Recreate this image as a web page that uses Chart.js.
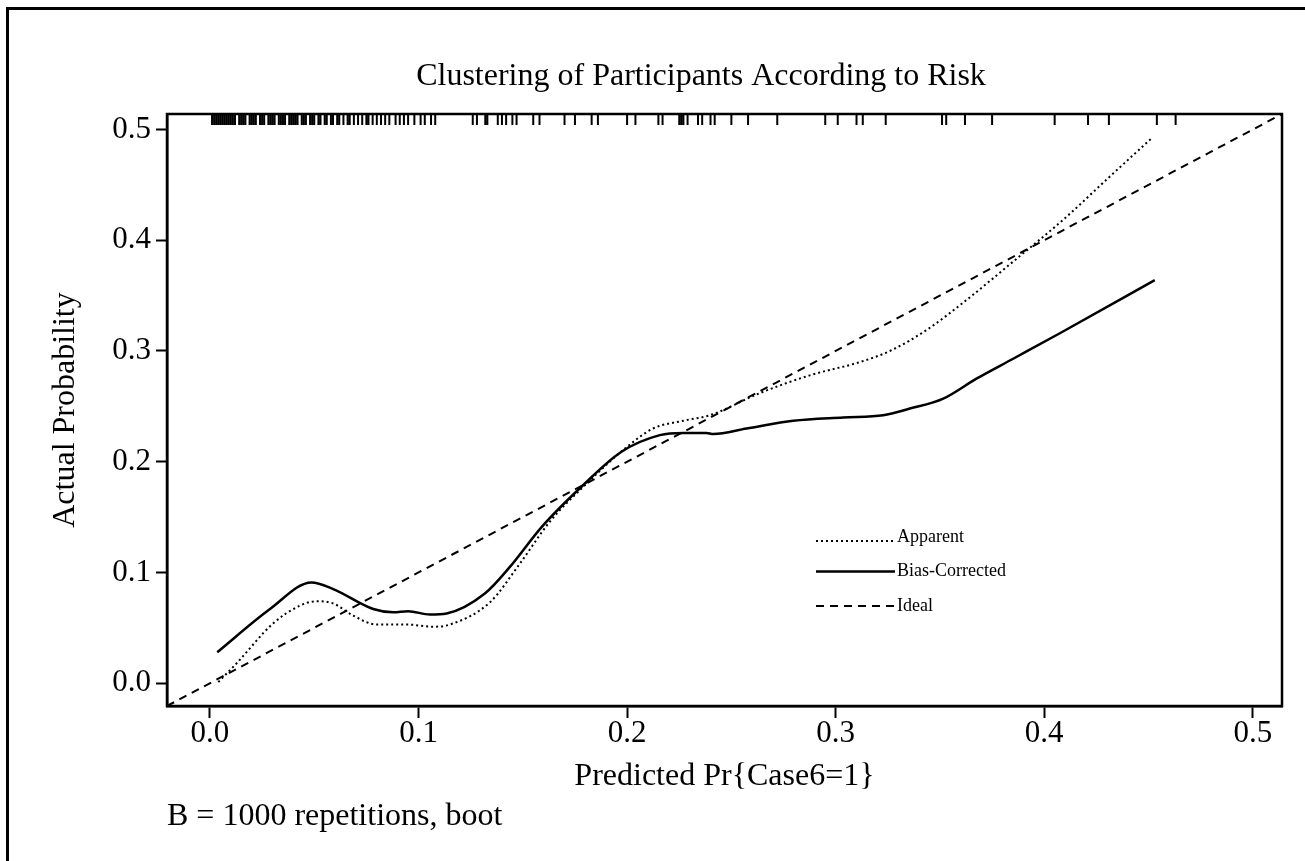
<!DOCTYPE html>
<html>
<head>
<meta charset="utf-8">
<script src="https://cdn.jsdelivr.net/npm/chart.js@4.4.1/dist/chart.umd.min.js"></script>
<style>
  html, body { margin: 0; padding: 0; background: #fff; }
</style>
</head>
<body>
<canvas id="calib" width="1305" height="861"></canvas>
<script>
// calibration curves
const apparentX = [0.004, 0.0128, 0.0303, 0.0431, 0.0511, 0.0591, 0.0687, 0.0799, 0.0943, 0.107, 0.1151, 0.1342, 0.1486, 0.163, 0.1788, 0.1997, 0.2125, 0.2269, 0.2397, 0.2637, 0.2876, 0.3116, 0.326, 0.3436, 0.3627, 0.384, 0.41, 0.43, 0.452];
const apparentY = [0.001, 0.018, 0.054, 0.070, 0.074, 0.072, 0.061, 0.053, 0.053, 0.051, 0.053, 0.073, 0.108, 0.146, 0.177, 0.213, 0.230, 0.237, 0.242, 0.262, 0.278, 0.290, 0.300, 0.319, 0.346, 0.379, 0.420, 0.455, 0.493];

const biasX = [0.0035, 0.0288, 0.0487, 0.0591, 0.0783, 0.0879, 0.095, 0.1055, 0.1135, 0.1318, 0.1438, 0.159, 0.179, 0.1973, 0.2157, 0.2269, 0.238, 0.2413, 0.2573, 0.2797, 0.3036, 0.3228, 0.3356, 0.3516, 0.3675, 0.3851, 0.4075, 0.453];
const biasY = [0.028, 0.067, 0.091, 0.085, 0.067, 0.064, 0.065, 0.062, 0.063, 0.081, 0.105, 0.141, 0.179, 0.209, 0.224, 0.226, 0.226, 0.225, 0.230, 0.237, 0.240, 0.242, 0.248, 0.257, 0.275, 0.293, 0.316, 0.364];

const idealX = [-0.0206, 0.514];
const idealY = [-0.0206, 0.514];

// rug of predicted probabilities along the top
const rugX = [0.001, 0.002, 0.003, 0.004, 0.005, 0.006, 0.007, 0.008, 0.009, 0.010, 0.011, 0.012, 0.014, 0.015, 0.016, 0.017, 0.019, 0.020, 0.021, 0.022, 0.024, 0.025, 0.026, 0.028, 0.029, 0.030, 0.031, 0.033, 0.034, 0.035, 0.036, 0.038, 0.039, 0.040, 0.041, 0.042, 0.044, 0.045, 0.046, 0.048, 0.049, 0.050, 0.052, 0.053, 0.055, 0.056, 0.058, 0.059, 0.061, 0.062, 0.064, 0.066, 0.067, 0.069, 0.071, 0.073, 0.075, 0.076, 0.078, 0.080, 0.082, 0.084, 0.086, 0.089, 0.091, 0.093, 0.095, 0.098, 0.101, 0.103, 0.106, 0.108,
  0.126, 0.128, 0.132, 0.133, 0.138, 0.140, 0.142, 0.145, 0.147, 0.155, 0.158, 0.170, 0.175, 0.183, 0.186, 0.200, 0.204, 0.215, 0.217, 0.225, 0.226, 0.227, 0.229, 0.234, 0.236, 0.240, 0.242, 0.250, 0.258, 0.272, 0.295, 0.301, 0.310, 0.313, 0.324, 0.351, 0.353, 0.362, 0.375, 0.405, 0.421, 0.431, 0.454, 0.463];

const tickVals = [0, 0.1, 0.2, 0.3, 0.4, 0.5];
const axisMin = -0.0206;
const axisMax = 0.514;

const serif = "'Liberation Serif', 'DejaVu Serif', serif";

function pts(xs, ys) {
  return xs.map((v, i) => ({ x: v, y: ys[i] }));
}

const decor = {
  id: 'decor',
  beforeDraw(chart) {
    const ctx = chart.ctx;
    ctx.save();
    ctx.fillStyle = '#fff';
    ctx.fillRect(0, 0, chart.width, chart.height);
    ctx.fillStyle = '#000';
    ctx.fillRect(6, 7, chart.width - 6, 3);
    ctx.fillRect(6, 7, 3, chart.height - 7);
    ctx.restore();
  },
  afterDraw(chart) {
    const { ctx, chartArea: a, scales: { x } } = chart;
    ctx.save();
    ctx.strokeStyle = '#000';
    ctx.fillStyle = '#000';
    ctx.lineWidth = 2.5;
    ctx.strokeRect(a.left, a.top, a.right - a.left, a.bottom - a.top);

    // rug ticks
    ctx.lineWidth = 2;
    ctx.beginPath();
    rugX.forEach(v => {
      const px = x.getPixelForValue(v);
      ctx.moveTo(px, a.top);
      ctx.lineTo(px, a.top + 11);
    });
    ctx.stroke();

    ctx.font = '32px ' + serif;
    ctx.textBaseline = 'middle';
    ctx.textAlign = 'center';
    ctx.fillText('Clustering of Participants According to Risk', 701, 77);
    ctx.textAlign = 'left';
    ctx.fillText('B = 1000 repetitions, boot', 167, 817);

    // legend inside the plot
    ctx.font = '18px ' + serif;
    chart.data.datasets.forEach((ds, i) => {
      const y = 537 + i * 34.5;
      const ly = ds.label === 'Apparent' ? y + 4 : y;
      ctx.setLineDash(ds.borderDash || []);
      ctx.lineWidth = ds.borderWidth;
      ctx.beginPath();
      ctx.moveTo(816, ly);
      ctx.lineTo(895, ly);
      ctx.stroke();
      ctx.setLineDash([]);
      ctx.fillText(ds.label, 897, y);
    });
    ctx.restore();
  }
};

const lineBase = {
  showLine: true,
  borderColor: '#000',
  backgroundColor: '#000',
  pointRadius: 0,
  fill: false,
  cubicInterpolationMode: 'monotone'
};

new Chart(document.getElementById('calib'), {
  type: 'scatter',
  data: {
    datasets: [
      { ...lineBase, label: 'Apparent', data: pts(apparentX, apparentY), borderWidth: 2, borderDash: [2, 3] },
      { ...lineBase, label: 'Bias-Corrected', data: pts(biasX, biasY), borderWidth: 2.5 },
      { ...lineBase, label: 'Ideal', data: pts(idealX, idealY), borderWidth: 2, borderDash: [8, 6] }
    ]
  },
  options: {
    responsive: false,
    animation: false,
    devicePixelRatio: 1,
    layout: { padding: { left: 0, top: 114, right: 23, bottom: 64.8 } },
    plugins: { legend: { display: false }, tooltip: { enabled: false }, title: { display: false } },
    scales: {
      x: {
        type: 'linear',
        min: axisMin,
        max: axisMax,
        afterBuildTicks: s => { s.ticks = tickVals.map(v => ({ value: v })); },
        afterFit: s => { s.height = 90.2; },
        grid: { display: true, drawOnChartArea: false, drawTicks: true, tickLength: 12, tickWidth: 2, tickColor: '#000', color: '#000' },
        border: { display: true, color: '#000', width: 2.5 },
        ticks: { color: '#000', font: { family: serif, size: 31, lineHeight: 1 }, padding: 0, maxRotation: 0, autoSkip: false, callback: v => Number(v).toFixed(1) },
        title: { display: true, text: 'Predicted Pr{Case6=1}', color: '#000', font: { family: serif, size: 32, lineHeight: 1.2 }, padding: { top: 0, bottom: 0 } }
      },
      y: {
        type: 'linear',
        min: axisMin,
        max: axisMax,
        afterBuildTicks: s => { s.ticks = tickVals.map(v => ({ value: v })); },
        afterFit: s => { s.width = 167; },
        grid: { display: true, drawOnChartArea: false, drawTicks: true, tickLength: 11, tickWidth: 2, tickColor: '#000', color: '#000' },
        border: { display: true, color: '#000', width: 2.5 },
        ticks: { color: '#000', font: { family: serif, size: 31, lineHeight: 1 }, padding: 5, autoSkip: false, callback: v => Number(v).toFixed(1) },
        title: { display: true, text: 'Actual Probability', color: '#000', font: { family: serif, size: 32, lineHeight: 1.2 }, padding: { top: 46, bottom: 0 } }
      }
    }
  },
  plugins: [decor]
});
</script>
</body>
</html>
